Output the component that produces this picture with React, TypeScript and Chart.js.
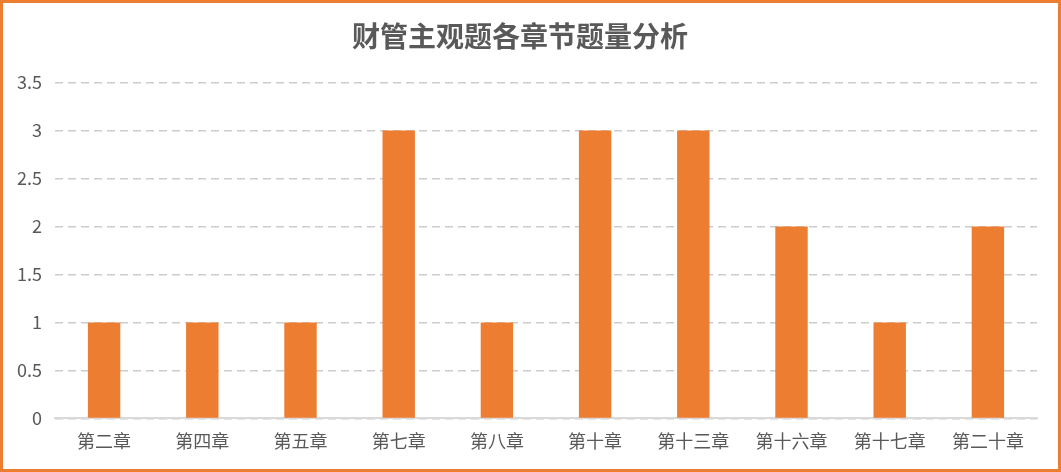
import React, { useEffect, useRef } from "react";
import { Chart, registerables } from "chart.js";

Chart.register(...registerables);

const title = "财管主观题各章节题量分析";
const categories = ["第二章", "第四章", "第五章", "第七章", "第八章", "第十章", "第十三章", "第十六章", "第十七章", "第二十章"];
const counts = [1, 1, 1, 3, 1, 3, 3, 2, 1, 2];
const yMin = 0;
const yMax = 3.5;
const yStep = 0.5;

const FONT = "'Noto Sans CJK SC', 'Microsoft YaHei', sans-serif";

export default function App() {
  const ref = useRef<HTMLCanvasElement | null>(null);

  useEffect(() => {
    document.body.style.margin = "0";
    const ctx = ref.current!;
    const chart = new Chart(ctx, {
      type: "bar",
      data: {
        labels: categories,
        datasets: [
          {
            data: counts,
            backgroundColor: "#ED7D31",
            borderWidth: 0,
            barPercentage: 0.33,
            categoryPercentage: 1,
          },
        ],
      },
      options: {
        responsive: false,
        animation: false,
        devicePixelRatio: 1,
        layout: { padding: { left: 0, right: 21, top: 0, bottom: 5 } },
        plugins: {
          legend: { display: false },
          tooltip: { enabled: false },
          title: {
            display: true,
            text: title,
            color: "#595959",
            font: { family: FONT, size: 28, weight: "bold" },
            padding: { top: 17, bottom: 29 },
          },
        },
        scales: {
          x: {
            grid: { display: false, drawTicks: false },
            border: { display: true, color: "#d9d9d9", width: 2 },
            ticks: { color: "#595959", font: { family: FONT, size: 18 }, padding: 12 },
          },
          y: {
            min: yMin,
            max: yMax,
            afterFit: (s: any) => {
              s.width = 52;
            },
            grid: { color: "#cccccc", lineWidth: 1.5, drawTicks: false },
            border: { display: false, dash: [8, 5] },
            ticks: {
              stepSize: yStep,
              color: "#595959",
              font: { family: FONT, size: 18 },
              padding: 13,
              callback: (v: any) => String(Number(v)),
            },
          },
        },
      },
    });
    return () => chart.destroy();
  }, []);

  return (
    <div
      style={{
        position: "absolute",
        left: 0,
        top: 0,
        width: 1061,
        height: 472,
        boxSizing: "border-box",
        border: "3px solid #ED7D31",
        background: "#fff",
      }}
    >
      <canvas ref={ref} width={1055} height={466} style={{ display: "block" }} />
    </div>
  );
}
